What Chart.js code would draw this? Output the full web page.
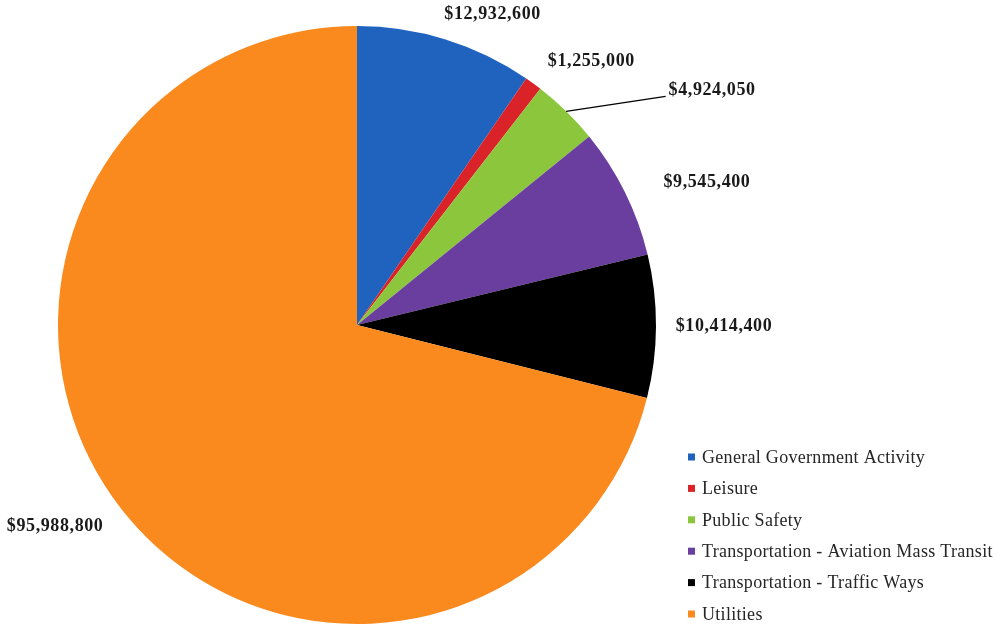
<!DOCTYPE html>
<html>
<head>
<meta charset="utf-8">
<script src="https://cdn.jsdelivr.net/npm/chart.js@4.4.1/dist/chart.umd.min.js"></script>
<style>
  html, body { margin: 0; padding: 0; background: #ffffff; }
  #wrap { width: 1000px; height: 628px; position: relative; }
</style>
</head>
<body>
<div id="wrap"><canvas id="chart" width="1000" height="628"></canvas></div>
<script>
// Capital budget by program area
const categories = [
  'General Government Activity',
  'Leisure',
  'Public Safety',
  'Transportation - Aviation Mass Transit',
  'Transportation - Traffic Ways',
  'Utilities'
];
const amounts = [12932600, 1255000, 4924050, 9545400, 10414400, 95988800];
const sliceColors = ['#1F63BE', '#D92328', '#8CC63C', '#6A3E9E', '#000000', '#FA8A1E'];

// Label nudges (px) from the outer edge of each slice at its mid-angle
const labelNudge = [[47, -25], [58, -22], [146, -21], [82, -10], [68, 0], [-66, 18]];
const leaderLine = [false, false, true, false, false, false];

const money = v => '$' + v.toLocaleString('en-US');

const valueLabels = {
  id: 'valueLabels',
  afterDatasetsDraw(chart) {
    const ctx = chart.ctx;
    const meta = chart.getDatasetMeta(0);
    ctx.save();
    ctx.font = 'bold 18px "Liberation Serif", "Times New Roman", serif';
    ctx.letterSpacing = '0.6px';
    ctx.fillStyle = '#1a1a1a';
    ctx.textAlign = 'center';
    ctx.textBaseline = 'middle';
    meta.data.forEach((arc, i) => {
      const p = arc.getProps(['x', 'y', 'startAngle', 'endAngle', 'outerRadius'], true);
      const mid = (p.startAngle + p.endAngle) / 2;
      const ex = p.x + Math.cos(mid) * p.outerRadius;
      const ey = p.y + Math.sin(mid) * p.outerRadius;
      const lx = ex + labelNudge[i][0];
      const ly = ey + labelNudge[i][1];
      const text = money(amounts[i]);
      if (leaderLine[i]) {
        const w = ctx.measureText(text).width;
        ctx.beginPath();
        ctx.strokeStyle = '#000000';
        ctx.lineWidth = 1.2;
        ctx.moveTo(ex, ey);
        ctx.lineTo(lx - w / 2 - 3, ly + 6);
        ctx.stroke();
      }
      ctx.fillText(text, lx, ly);
    });
    ctx.restore();
  }
};

const sideLegend = {
  id: 'sideLegend',
  afterDraw(chart) {
    const ctx = chart.ctx;
    const left = 688, top = 457, step = 31.4, box = 7;
    ctx.save();
    ctx.font = '18px "Liberation Serif", "Times New Roman", serif';
    ctx.letterSpacing = '0.3px';
    ctx.textBaseline = 'middle';
    ctx.textAlign = 'left';
    chart.data.labels.forEach((label, i) => {
      const y = top + i * step;
      ctx.fillStyle = chart.data.datasets[0].backgroundColor[i];
      ctx.fillRect(left, y - box / 2, box, box);
      ctx.fillStyle = '#262626';
      ctx.fillText(label, left + 14, y + 1);
    });
    ctx.restore();
  }
};

new Chart(document.getElementById('chart'), {
  type: 'pie',
  data: {
    labels: categories,
    datasets: [{
      data: amounts,
      backgroundColor: sliceColors,
      borderWidth: 0
    }]
  },
  options: {
    responsive: false,
    animation: false,
    layout: { padding: { left: 58, top: 26, right: 344, bottom: 4 } },
    plugins: {
      legend: { display: false },
      tooltip: { enabled: false }
    }
  },
  plugins: [valueLabels, sideLegend]
});
</script>
</body>
</html>
